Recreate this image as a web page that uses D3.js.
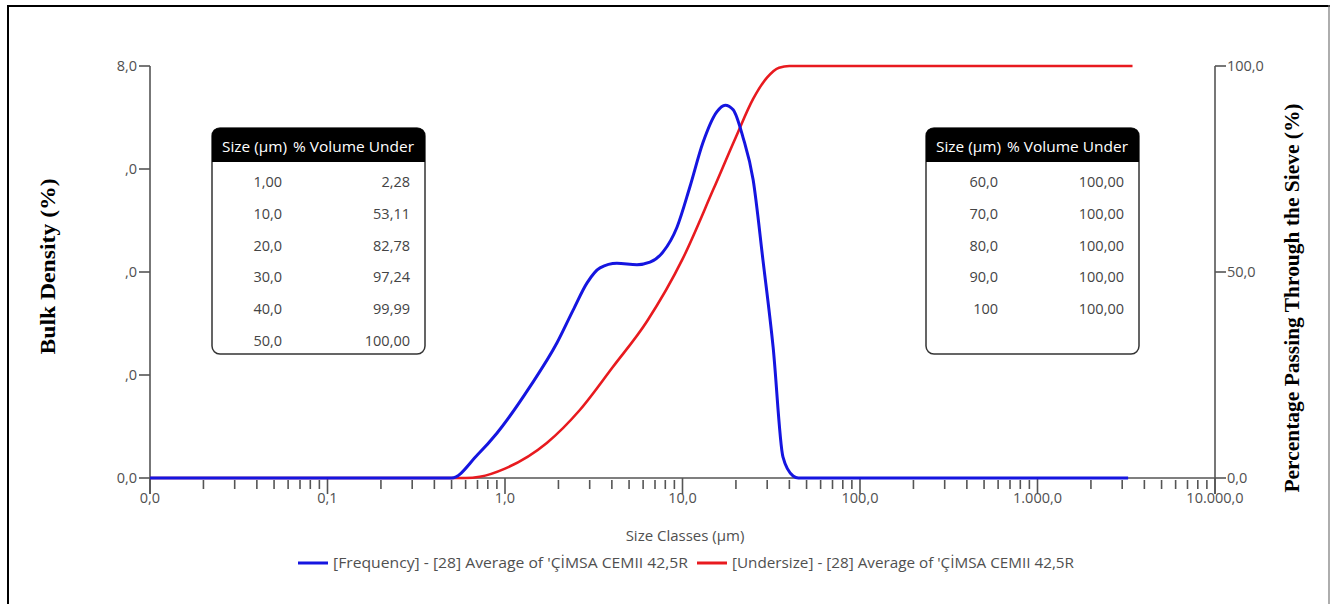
<!DOCTYPE html>
<html><head><meta charset="utf-8">
<script src="https://cdn.jsdelivr.net/npm/d3@7"></script>
<style>body{margin:0;background:#fff;}svg{display:block;}</style>
</head><body>
<svg id="c" width="1330" height="604"></svg>
<script>
// ---- data ----
const freqSizes  = [0.01, 0.5, 0.7, 0.9, 1.38, 1.96, 2.42, 2.9, 3.43, 4.27, 5.54, 6.56, 7.77, 9.31, 11.0, 13.0, 15.6, 17.4, 19.3, 21.9, 25.0, 28.4, 32.4, 36.8, 42.0, 45.0, 3240];
const freqValues = [0, 0, 0.45, 0.87, 1.77, 2.62, 3.26, 3.79, 4.08, 4.17, 4.14, 4.19, 4.39, 4.87, 5.65, 6.50, 7.11, 7.24, 7.15, 6.62, 5.79, 4.23, 2.54, 0.41, 0.04, 0, 0];
const underSizes  = [0.01, 0.6, 0.72, 1.0, 1.72, 2.64, 4.06, 6.3, 10, 14.9, 20, 25, 30, 35, 40, 3430];
const underValues = [0, 0, 0.3, 2.28, 8.5, 16.5, 27, 38, 53.11, 70, 82.78, 92, 97.24, 99.6, 99.99, 100];
const xTickValues = [0.01, 0.1, 1, 10, 100, 1000, 10000];
const xTickLabels = ["0,0", "0,1", "1,0", "10,0", "100,0", "1.000,0", "10.000,0"];
const yLeftTicks  = [0, 2, 4, 6, 8];
const yLeftLabels = ["0,0", ",0", ",0", ",0", "8,0"];
const yRightTicks  = [0, 50, 100];
const yRightLabels = ["0,0", "50,0", "100,0"];
const tableLeftSizes  = ["1,00", "10,0", "20,0", "30,0", "40,0", "50,0"];
const tableLeftVals   = ["2,28", "53,11", "82,78", "97,24", "99,99", "100,00"];
const tableRightSizes = ["60,0", "70,0", "80,0", "90,0", "100"];
const tableRightVals  = ["100,00", "100,00", "100,00", "100,00", "100,00"];
const seriesNames = ["[Frequency] - [28] Average of 'ÇİMSA CEMII 42,5R", "[Undersize] - [28] Average of 'ÇİMSA CEMII 42,5R"];

// ---- layout ----
const svg = d3.select("#c");
const L = 150, R = 1215, T = 66, B = 478;
const x = d3.scaleLog().domain([0.01, 10000]).range([L, R]);
const yL = d3.scaleLinear().domain([0, 8]).range([B, T]);
const yR = d3.scaleLinear().domain([0, 100]).range([B, T]);
const sans = "'Open Sans', 'Noto Sans', sans-serif";
const axisCol = "#555";
const textCol = "#505050";
const fs = 14.5;

// border
svg.append("line").attr("x1",7).attr("x2",1330).attr("y1",6).attr("y2",6).attr("stroke","#000").attr("stroke-width",2);
svg.append("line").attr("x1",8).attr("x2",8).attr("y1",5).attr("y2",604).attr("stroke","#000").attr("stroke-width",2);
svg.append("line").attr("x1",1329).attr("x2",1329).attr("y1",5).attr("y2",604).attr("stroke","#777").attr("stroke-width",1.2);

// x axis
const g = svg.append("g");
g.append("line").attr("x1",L).attr("x2",R).attr("y1",B).attr("y2",B).attr("stroke",axisCol).attr("stroke-width",1.5);
const minor = [];
for (let e = -2; e < 4; e++) for (let k = 2; k <= 9; k++) minor.push(k * Math.pow(10, e));
g.selectAll(".mn").data(minor).join("line")
  .attr("x1", d => x(d)).attr("x2", d => x(d)).attr("y1", B + 2).attr("y2", B + 11)
  .attr("stroke", axisCol).attr("stroke-width", 1.6);
g.selectAll(".mj").data(xTickValues).join("line")
  .attr("x1", d => x(d)).attr("x2", d => x(d)).attr("y1", B).attr("y2", B + 16)
  .attr("stroke", axisCol).attr("stroke-width", 1.6);
g.selectAll(".xl").data(xTickValues).join("text")
  .attr("x", d => x(d)).attr("y", B + 25).attr("text-anchor","middle")
  .attr("font-family", sans).attr("font-size", fs).attr("fill", textCol)
  .text((d,i) => xTickLabels[i]);
svg.append("text").attr("x", 685).attr("y", 541).attr("text-anchor","middle")
  .attr("font-family", sans).attr("font-size", 15).attr("fill", textCol).text("Size Classes (µm)");

// left y axis
g.append("line").attr("x1",L).attr("x2",L).attr("y1",T).attr("y2",B+16).attr("stroke",axisCol).attr("stroke-width",1.6);
g.selectAll(".lt").data(yLeftTicks).join("line")
  .attr("x1", L - 11).attr("x2", L).attr("y1", d => yL(d)).attr("y2", d => yL(d))
  .attr("stroke", axisCol).attr("stroke-width", 1.6);
g.selectAll(".ll").data(yLeftTicks).join("text")
  .attr("x", L - 13).attr("y", d => yL(d) + 5).attr("text-anchor","end")
  .attr("font-family", sans).attr("font-size", fs).attr("fill", textCol)
  .text((d,i) => yLeftLabels[i]);

// right y axis
g.append("line").attr("x1",R).attr("x2",R).attr("y1",T).attr("y2",B+16).attr("stroke",axisCol).attr("stroke-width",1.6);
g.selectAll(".rt").data(yRightTicks).join("line")
  .attr("x1", R).attr("x2", R + 11).attr("y1", d => yR(d)).attr("y2", d => yR(d))
  .attr("stroke", axisCol).attr("stroke-width", 1.6);
g.selectAll(".rl").data(yRightTicks).join("text")
  .attr("x", R + 12).attr("y", d => yR(d) + 5).attr("text-anchor","start")
  .attr("font-family", sans).attr("font-size", fs).attr("fill", textCol)
  .text((d,i) => yRightLabels[i]);

// axis titles
const serif = "'Liberation Serif', 'Times New Roman', serif";
svg.append("text").attr("transform","translate(55,266.5) rotate(-90)").attr("text-anchor","middle")
  .attr("font-family", serif).attr("font-weight","bold").attr("font-size", 21).attr("fill","#000")
  .attr("textLength", 176).attr("lengthAdjust","spacingAndGlyphs")
  .text("Bulk Density (%)");
svg.append("text").attr("transform","translate(1299,298) rotate(-90)").attr("text-anchor","middle")
  .attr("font-family", serif).attr("font-weight","bold").attr("font-size", 21).attr("fill","#000")
  .attr("textLength", 389).attr("lengthAdjust","spacingAndGlyphs")
  .text("Percentage Passing Through the Sieve (%)");

// lines
const blue = "#1515e0", red = "#e81a1f";
const lineF = d3.line().x(d => x(d[0])).y(d => yL(d[1])).curve(d3.curveMonotoneX);
const lineU = d3.line().x(d => x(d[0])).y(d => yR(d[1])).curve(d3.curveMonotoneX);
svg.append("path").datum(underSizes.map((s,i) => [s, underValues[i]])).attr("d", lineU)
  .attr("fill","none").attr("stroke", red).attr("stroke-width", 2.6);
svg.append("path").datum(freqSizes.map((s,i) => [s, freqValues[i]])).attr("d", lineF)
  .attr("fill","none").attr("stroke", blue).attr("stroke-width", 3);

// tables
function table(x0, w, sizes, vals, sizeRight, valRight) {
  const tg = svg.append("g");
  const y0 = 128, h = 226, hh = 34;
  tg.append("rect").attr("x", x0).attr("y", y0).attr("width", w).attr("height", h).attr("rx", 8)
    .attr("fill", "#fff").attr("stroke", "#333").attr("stroke-width", 1.5);
  tg.append("path").attr("d", `M${x0},${y0+hh} L${x0},${y0+8} Q${x0},${y0} ${x0+8},${y0} L${x0+w-8},${y0} Q${x0+w},${y0} ${x0+w},${y0+8} L${x0+w},${y0+hh} Z`)
    .attr("fill", "#000");
  tg.append("text").attr("x", x0 + 10).attr("y", y0 + 24).attr("font-family", sans).attr("font-size", 14.5)
    .attr("fill", "#fff").attr("textLength", 65).attr("lengthAdjust","spacingAndGlyphs").text("Size (µm)");
  tg.append("text").attr("x", x0 + 81).attr("y", y0 + 24).attr("font-family", sans).attr("font-size", 14.5)
    .attr("fill", "#fff").attr("textLength", 121).attr("lengthAdjust","spacingAndGlyphs").text("% Volume Under");
  sizes.forEach((s, i) => {
    const yy = 187 + i * 31.8;
    tg.append("text").attr("x", x0 + sizeRight).attr("y", yy).attr("text-anchor","end")
      .attr("font-family", sans).attr("font-size", 14.5).attr("fill", "#444").text(s);
    tg.append("text").attr("x", x0 + valRight).attr("y", yy).attr("text-anchor","end")
      .attr("font-family", sans).attr("font-size", 14.5).attr("fill", "#444").text(vals[i]);
  });
}
table(212, 213, tableLeftSizes, tableLeftVals, 70, 198);
table(926, 213, tableRightSizes, tableRightVals, 72, 198);

// legend
const lg = svg.append("g");
[[298, blue, seriesNames[0], 355], [697, red, seriesNames[1], 342]].forEach(([lx, c, t, tl]) => {
  lg.append("line").attr("x1", lx).attr("x2", lx + 30).attr("y1", 563).attr("y2", 563).attr("stroke", c).attr("stroke-width", 3);
  lg.append("text").attr("x", lx + 35).attr("y", 568).attr("font-family", sans).attr("font-size", 14)
    .attr("fill", textCol).attr("textLength", tl).attr("lengthAdjust","spacingAndGlyphs").text(t);
});
</script>
</body></html>
